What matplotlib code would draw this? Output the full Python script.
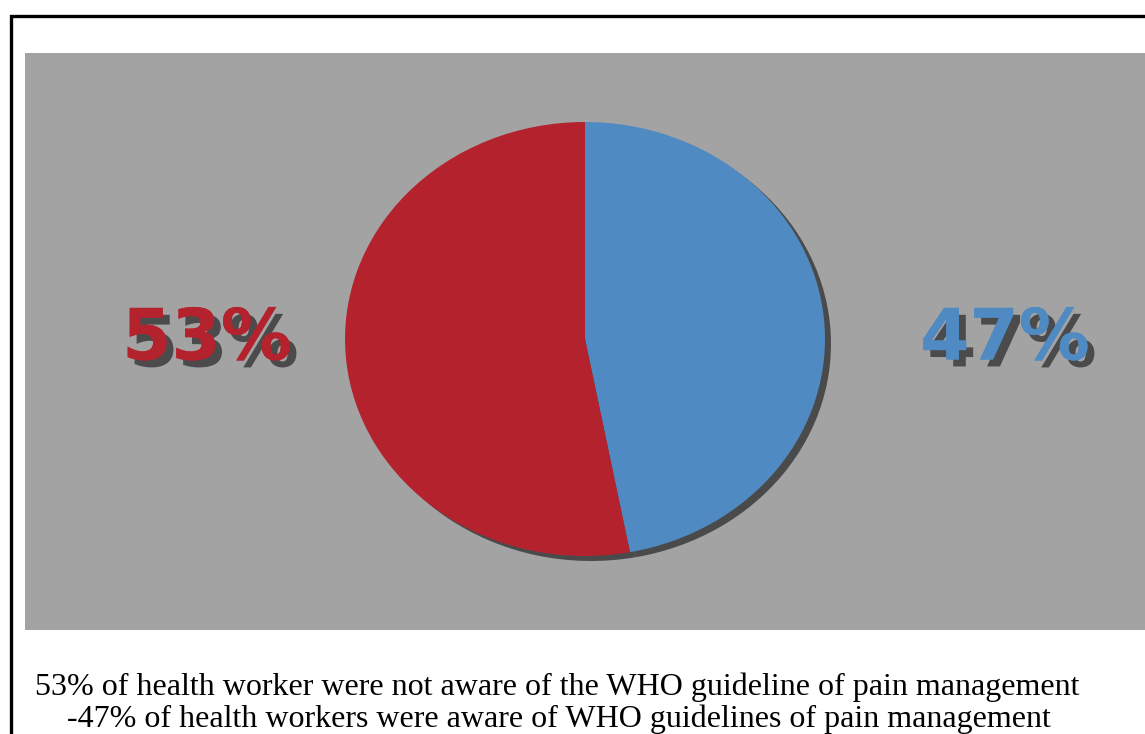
import matplotlib.pyplot as plt
import matplotlib.patheffects as pe
from matplotlib.patches import Rectangle

# awareness of WHO pain management guideline
groups = ['Aware', 'Not aware']
shares = [47, 53]
colors = ['#4f8ac3', '#b4232d']
caption = ['53% of health worker were not aware of the WHO guideline of pain management',
           '-47% of health workers were aware of WHO guidelines of pain management']

W, H = 1145, 734
fig = plt.figure(figsize=(W / 100, H / 100), dpi=100)
fig.patch.set_facecolor('white')

# outer frame (only left/top edges fall inside the canvas) and grey panel
fig.add_artist(Rectangle((11 / W, -0.1), 1.2, (H - 16) / H + 0.1, transform=fig.transFigure,
                         fill=False, edgecolor='black', linewidth=2.4, zorder=-2))
fig.add_artist(Rectangle((25 / W, (H - 630) / H), 1.0, (630 - 53) / H, transform=fig.transFigure,
                         facecolor='#a3a3a3', edgecolor='none', zorder=-1))

# pie axes: 480 x 434 px, centred at (585, 339)
cx, cy, rx, ry = 585, 339, 240, 217
ax = fig.add_axes([(cx - rx) / W, (H - cy - ry) / H, 2 * rx / W, 2 * ry / H])
ax.set_axis_off()

# drop shadow behind the pie
ax.pie(shares, colors=['#4a4a4a'] * 2, startangle=90, counterclock=False,
       center=(6 / rx, -5 / ry), wedgeprops=dict(linewidth=0))
ax.pie(shares, colors=colors, startangle=90, counterclock=False,
       wedgeprops=dict(linewidth=0))
ax.set_xlim(-1, 1)
ax.set_ylim(-1, 1)
ax.set_aspect('auto')

shadow = [pe.withSimplePatchShadow(offset=(5, -5), shadow_rgbFace='#3c3c3c', alpha=0.85),
          pe.Normal()]
label_pos = [(1005, 340), (207, 340)]
for val, col, (px, py) in zip(shares, colors, label_pos):
    fig.text(px / W, 1 - py / H, f'{val}%', color=col, fontsize=51, fontweight='heavy',
             family='DejaVu Sans', ha='center', va='center',
             path_effects=shadow)

fig.text(35 / W, 1 - 695 / H, caption[0], fontsize=23, family='Liberation Serif',
         ha='left', va='baseline')
fig.text(559 / W, 1 - 727 / H, caption[1], fontsize=23, family='Liberation Serif',
         ha='center', va='baseline')

fig.savefig('out.png', dpi=100)
